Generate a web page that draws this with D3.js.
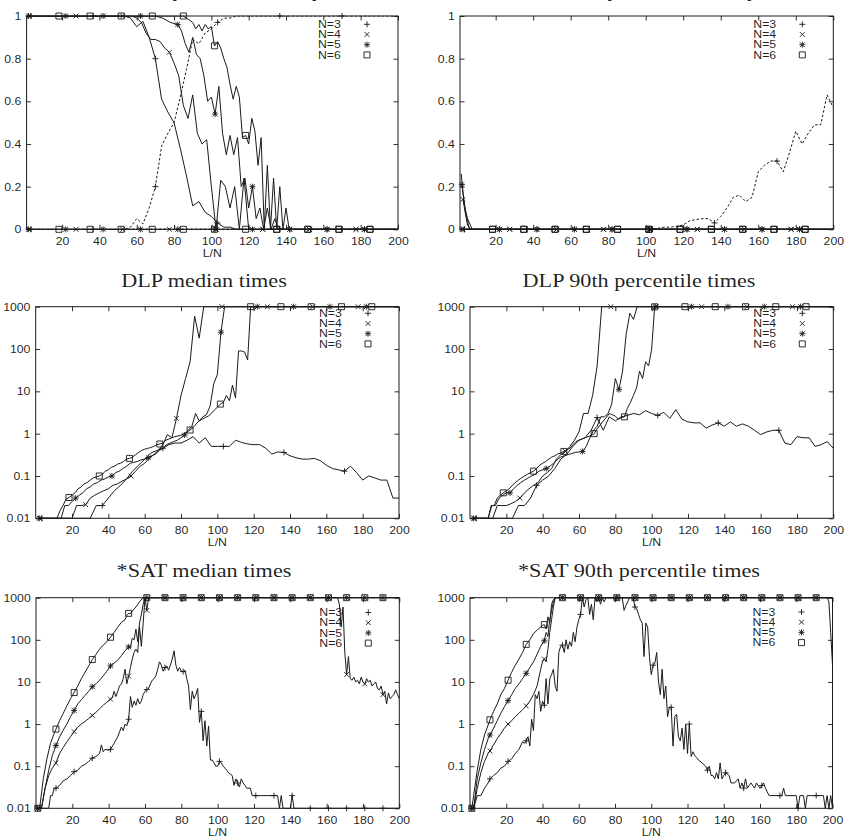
<!DOCTYPE html>
<html>
<head>
<meta charset="utf-8">
<script src="https://cdn.jsdelivr.net/npm/d3@7"></script>
<style>
  body { margin: 0; background: #fff; }
  svg { display: block; }
  text { fill-opacity: 0.99; }
</style>
</head>
<body>
<div id="chart"></div>
<script>
// ---- tick labels / legend ----
var xTicks = [20, 40, 60, 80, 100, 120, 140, 160, 180, 200];
var linTicks = [0, 0.2, 0.4, 0.6, 0.8, 1];
var logTicks = [0.01, 0.1, 1, 10, 100, 1000];
var legendLabels = ["N=3", "N=4", "N=5", "N=6"];
var legendSymbols = ["plus", "cross", "star", "box"];
var titles = ["Probability of satisfiability", "Probability of satisfiability",
  "DLP median times", "DLP 90th percentile times",
  "*SAT median times", "*SAT 90th percentile times"];

// ---- top left: solid (falling) and dashed (rising) curves ----
var pA3 = [[3.33,1],[53.33,1],[56.67,0.99],[60,0.95],[63.33,0.975],[66.67,0.9],[70,0.8],[73.33,0.61],[76.67,0.55],[80,0.5],[83.33,0.38],[86.67,0.25],[90,0.11],[93.33,0.13],[96.67,0.08],[100,0.06],[103.33,0.03],[106.67,0.01],[110,0.01],[113.33,0],[200,0]];
var pA4 = [[2.5,1],[57.5,1],[60,0.99],[62.5,0.97],[65,0.92],[67.5,0.89],[70,0.89],[72.5,0.88],[75,0.85],[77.5,0.83],[80,0.78],[82.5,0.72],[85,0.58],[87.5,0.52],[90,0.63],[92.5,0.45],[95,0.4],[97.5,0.42],[100,0.2],[102.5,0],[105,0.23],[107.5,0.2],[110,0.1],[112.5,0.2],[115,0],[117.5,0.24],[120,0],[200,0]];
var pA5 = [[2,1],[70,1],[74,0.99],[78,0.97],[82,0.96],[84,0.93],[86,0.87],[88,0.83],[90,0.9],[92,0.82],[94,0.8],[96,0.72],[98,0.6],[100,0.62],[102,0.54],[104,0.67],[106,0.45],[108,0.35],[110,0.44],[112,0.35],[114,0.43],[116,0.2],[118,0.24],[120,0.1],[122,0.2],[124,0.05],[126,0.1],[128,0],[130,0.1],[132,0],[134,0.05],[136,0],[200,0]];
var pA6 = [[1.67,1],[85,1],[86.67,0.99],[88.33,0.98],[90,0.97],[91.67,0.94],[93.33,0.96],[95,0.93],[96.67,0.96],[98.33,0.94],[100,0.95],[101.67,0.86],[103.33,0.88],[105,0.85],[106.67,0.8],[108.33,0.76],[110,0.68],[111.67,0.61],[113.33,0.67],[115,0.62],[116.67,0.43],[118.33,0.44],[120,0.4],[121.67,0.52],[123.33,0.46],[125,0.3],[126.67,0.43],[128.33,0],[130,0.3],[131.67,0],[133.33,0.24],[135,0],[136.67,0.2],[138.33,0],[140,0.1],[141.67,0],[200,0]];
var pB3 = [[3.33,0],[53.33,0],[56.67,0.01],[60,0.05],[63.33,0.025],[66.67,0.1],[70,0.2],[73.33,0.39],[76.67,0.45],[80,0.5],[83.33,0.62],[86.67,0.75],[90,0.89],[93.33,0.87],[96.67,0.92],[100,0.94],[103.33,0.97],[106.67,0.99],[110,0.99],[113.33,1],[200,1]];
var pB4 = [[2.5,0],[200,0]];
var pB5 = [[2,0],[200,0]];
var pB6 = [[1.67,0],[200,0]];

// ---- top right ----
var qA3 = [[3.33,0],[200,0]];
var qA4 = [[2.5,0.14],[5,0.05],[7.5,0],[200,0]];
var qA5 = [[2,0.21],[4,0.08],[6,0],[200,0]];
var qA6 = [[1.67,0.26],[3.33,0.1],[5,0.02],[6.67,0],[200,0]];
var qB3 = [[3.33,0],[103.33,0],[106.67,0.005],[110,0.01],[113.33,0.01],[116.67,0.015],[120,0.02],[123.33,0.04],[126.67,0.045],[130,0.05],[133.33,0.05],[136.67,0.03],[140,0.06],[143.33,0.1],[146.67,0.15],[150,0.16],[153.33,0.13],[156.67,0.15],[160,0.27],[163.33,0.3],[166.67,0.32],[170,0.32],[173.33,0.27],[176.67,0.36],[180,0.46],[183.33,0.4],[186.67,0.45],[190,0.49],[193.33,0.49],[196.67,0.63],[200,0.57]];

// ---- DLP median times ----
var dm3 = [[3.33,0.01],[30,0.01],[33.33,0.02],[36.67,0.02],[40,0.03],[43.33,0.045],[46.67,0.06],[50,0.085],[53.33,0.13],[56.67,0.18],[60,0.25],[63.33,0.35],[66.67,0.4],[70,0.45],[73.33,0.55],[76.67,0.6],[80,0.6],[83.33,0.7],[86.67,0.85],[90,0.6],[93.33,0.8],[96.67,0.5],[100,0.5],[103.33,0.5],[106.67,0.5],[110,0.7],[113.33,0.62],[116.67,0.57],[120,0.55],[123.33,0.55],[126.67,0.45],[130,0.33],[133.33,0.37],[136.67,0.36],[140,0.3],[143.33,0.27],[146.67,0.25],[150,0.25],[153.33,0.26],[156.67,0.23],[160,0.18],[163.33,0.15],[166.67,0.14],[170,0.13],[173.33,0.17],[176.67,0.12],[180,0.08],[183.33,0.1],[186.67,0.09],[190,0.08],[193.33,0.08],[196.67,0.03],[200,0.03]];
var dm4 = [[2.5,0.01],[20,0.01],[22.5,0.02],[25,0.02],[27.5,0.021],[30,0.03],[32.5,0.035],[35,0.04],[37.5,0.045],[40,0.05],[42.5,0.06],[45,0.065],[47.5,0.075],[50,0.085],[52.5,0.1],[55,0.13],[57.5,0.17],[60,0.2],[62.5,0.26],[65,0.32],[67.5,0.4],[70,0.55],[72.5,0.95],[75,0.8],[77.5,2.3],[80,8],[82.5,20],[85,50],[87.5,600],[90,180],[92.5,1000],[200,1000]];
var dm5 = [[2,0.01],[14,0.01],[16,0.02],[18,0.02],[20,0.025],[22,0.03],[24,0.035],[26,0.04],[28,0.05],[30,0.055],[32,0.065],[34,0.07],[36,0.08],[38,0.085],[40,0.095],[42,0.1],[44,0.12],[46,0.13],[48,0.15],[50,0.17],[52,0.2],[54,0.21],[56,0.22],[58,0.24],[60,0.25],[62,0.27],[64,0.3],[66,0.33],[68,0.4],[70,0.45],[72,0.55],[74,0.6],[76,0.65],[78,0.7],[80,0.8],[82,0.93],[84,1.2],[86,1.5],[88,3],[90,2],[92,2.5],[94,2.8],[96,4.5],[98,15],[100,25],[102,250],[104,1000],[200,1000]];
var dm6 = [[1.67,0.01],[11.67,0.01],[13.33,0.015],[15,0.02],[16.67,0.028],[18.33,0.031],[20,0.035],[21.67,0.04],[23.33,0.05],[25,0.055],[26.67,0.065],[28.33,0.07],[30,0.08],[31.67,0.09],[33.33,0.095],[35,0.1],[36.67,0.11],[38.33,0.13],[40,0.14],[41.67,0.16],[43.33,0.17],[45,0.19],[46.67,0.2],[48.33,0.22],[50,0.25],[51.67,0.26],[53.33,0.28],[55,0.32],[56.67,0.36],[58.33,0.4],[60,0.43],[61.67,0.45],[63.33,0.47],[65,0.5],[66.67,0.55],[68.33,0.57],[70,0.6],[71.67,0.7],[73.33,0.75],[75,0.8],[76.67,0.85],[78.33,0.88],[80,0.92],[81.67,1.0],[83.33,1.1],[85,1.22],[86.67,1.4],[88.33,1.7],[90,2.0],[91.67,2.2],[93.33,2.4],[95,2.6],[96.67,3.0],[98.33,3.6],[100,4.2],[101.67,5],[103.33,5.5],[105,8],[106.67,6],[108.33,14],[110,7],[111.67,90],[113.33,90],[115,85],[116.67,55],[118.33,1000],[200,1000]];

// ---- DLP 90th percentile times ----
var dp3 = [[3.33,0.01],[23.33,0.01],[26.67,0.02],[30,0.02],[33.33,0.03],[36.67,0.06],[40,0.08],[43.33,0.1],[46.67,0.15],[50,0.25],[53.33,0.33],[56.67,0.5],[60,0.7],[63.33,0.8],[66.67,1.2],[70,2.4],[73.33,1.2],[76.67,2.5],[80,2.0],[83.33,2.5],[86.67,2.7],[90,3],[93.33,2.8],[96.67,3.5],[100,3],[103.33,2.7],[106.67,3.2],[110,2.3],[113.33,3.7],[116.67,2.2],[120,1.9],[123.33,1.8],[126.67,1.8],[130,1.35],[133.33,1.6],[136.67,1.8],[140,1.5],[143.33,1.9],[146.67,1.5],[150,1.7],[153.33,1.5],[156.67,1.2],[160,0.95],[163.33,1.1],[166.67,1.2],[170,1.2],[173.33,0.6],[176.67,0.55],[180,0.85],[183.33,0.8],[186.67,0.8],[190,0.5],[193.33,0.55],[196.67,0.65],[200,0.45]];
var dp4 = [[2.5,0.01],[12.5,0.01],[15,0.02],[17.5,0.02],[20,0.02],[22.5,0.022],[25,0.025],[27.5,0.03],[30,0.04],[32.5,0.05],[35,0.06],[37.5,0.07],[40,0.1],[42.5,0.12],[45,0.15],[47.5,0.25],[50,0.32],[52.5,0.38],[55,0.5],[57.5,0.7],[60,1.1],[62.5,3],[65,3],[67.5,8],[70,40],[72.5,1000],[200,1000]];
var dp5 = [[2,0.01],[10,0.01],[12,0.02],[14,0.02],[16,0.03],[18,0.035],[20,0.04],[22,0.04],[24,0.05],[26,0.06],[28,0.07],[30,0.08],[32,0.09],[34,0.1],[36,0.11],[38,0.13],[40,0.14],[42,0.15],[44,0.17],[46,0.2],[48,0.24],[50,0.28],[52,0.3],[54,0.32],[56,0.34],[58,0.36],[60,0.37],[62,0.38],[64,0.5],[66,0.8],[68,1.2],[70,1.5],[72,2.5],[74,2.5],[76,3],[78,5],[80,20],[82,11],[84,30],[86,230],[88,700],[90,500],[92,1000],[200,1000]];
var dp6 = [[1.67,0.01],[10,0.01],[11.67,0.02],[13.33,0.02],[15,0.03],[16.67,0.035],[18.33,0.04],[20,0.045],[21.67,0.05],[23.33,0.06],[25,0.07],[26.67,0.08],[28.33,0.09],[30,0.1],[31.67,0.11],[33.33,0.12],[35,0.13],[36.67,0.15],[38.33,0.18],[40,0.2],[41.67,0.22],[43.33,0.25],[45,0.28],[46.67,0.3],[48.33,0.33],[50,0.35],[51.67,0.38],[53.33,0.42],[55,0.45],[56.67,0.55],[58.33,0.65],[60,0.7],[61.67,0.75],[63.33,0.8],[65,0.85],[66.67,0.9],[68.33,1.0],[70,1.3],[71.67,1.6],[73.33,2.0],[75,2.4],[76.67,3],[78.33,2.8],[80,2.6],[81.67,2.2],[83.33,2.4],[85,2.5],[86.67,4],[88.33,5.5],[90,8],[91.67,12],[93.33,30],[95,20],[96.67,50],[98.33,40],[100,100],[101.67,1000],[200,1000]];

// ---- *SAT median times ----
var sm3 = [[1,0.01],[7,0.01],[8,0.02],[9,0.02],[10,0.03],[11,0.03],[13,0.035],[15,0.045],[17,0.05],[19,0.06],[21,0.074],[23,0.08],[25,0.1],[27,0.11],[29,0.13],[31,0.155],[33,0.17],[35,0.2],[36,0.32],[37,0.22],[38,0.25],[40,0.24],[41,0.25],[43,0.35],[45,0.5],[47,0.85],[48,0.7],[49,1.0],[50,0.9],[51,1.3],[52,4.5],[53,2.5],[54,3.5],[55,2.8],[56,4],[57,3],[58,3.5],[59,5],[60,6],[61,6.6],[62,7],[63,9],[64,11],[65,12],[66,14],[67,20],[68,30],[69,25],[70,18],[71,22],[72,24],[73,19],[74,25],[75,35],[76,55],[77,25],[78,18],[79,22],[80,18],[81,17.6],[82,19],[83,12],[84,8],[85,2.2],[86,6],[87,4],[88,5],[89,7],[90,1.1],[91,2.0],[92,0.4],[93,1.2],[94,0.3],[95,0.9],[96,0.14],[97,0.14],[98,0.12],[99,0.1],[100,0.1],[101,0.13],[102,0.12],[103,0.1],[104,0.09],[105,0.08],[106,0.07],[107,0.065],[108,0.06],[109,0.035],[110,0.05],[111,0.04],[112,0.032],[113,0.05],[114,0.04],[115,0.035],[116,0.03],[118,0.03],[119,0.02],[133,0.02],[134,0.01],[135,0.02],[136,0.01],[140,0.01],[141,0.02],[142,0.01],[200,0.01]];
var sm4 = [[1,0.01],[3,0.01],[5,0.03],[7,0.06],[9,0.09],[11,0.12],[13,0.2],[15,0.28],[17,0.38],[19,0.5],[21,0.66],[23,0.85],[25,1.0],[27,1.15],[29,1.35],[31,1.6],[33,1.9],[35,2.3],[37,2.8],[39,3.3],[41,3.9],[42,4.2],[43,6],[44,4.5],[45,6],[46,8],[47,9],[48,12],[49,20],[50,9],[51,13.8],[52,22],[53,35],[54,50],[55,60],[56,50],[57,200],[58,70],[59,250],[60,1000],[61,500],[62,1000],[166,1000],[167,700],[168,200],[169,600],[170,50],[171,15],[172,40],[173,12],[174,11],[175,13],[176,10],[177,11],[178,9],[179,13],[180,10],[181,9],[182,12],[183,10],[184,11],[185,8],[186,9],[187,10],[188,7],[189,6.5],[190,8],[191,5],[192,6],[193,3],[194,5.5],[195,4],[196,4.5],[197,5],[198,6.5],[199,5],[200,4]];
var sm5 = [[1,0.01],[3,0.01],[5,0.03],[7,0.08],[9,0.18],[11,0.31],[13,0.5],[15,0.72],[17,1.0],[19,1.5],[21,2.1],[23,3],[25,3.8],[27,4.8],[29,6],[31,7.7],[33,9],[35,11],[37,14],[39,18],[41,24],[43,28],[45,33],[47,42],[49,55],[50,60],[51,68],[52,65],[53,110],[54,100],[55,180],[56,90],[57,250],[58,400],[59,700],[60,1000],[200,1000]];
var sm6 = [[1,0.01],[2,0.01],[4,0.05],[6,0.15],[8,0.35],[10,0.6],[11,0.76],[13,1.2],[15,1.8],[17,2.7],[19,4],[21,5.6],[23,8],[25,12],[27,17],[29,24],[31,34],[33,45],[35,60],[37,75],[39,90],[41,115],[43,150],[45,200],[47,260],[49,300],[50,380],[51,425],[52,420],[53,480],[55,600],[57,800],[59,1000],[200,1000]];

// ---- *SAT 90th percentile times ----
var sp3 = [[1,0.01],[2,0.01],[4,0.02],[6,0.02],[8,0.03],[10,0.04],[11,0.05],[13,0.06],[15,0.07],[17,0.09],[19,0.1],[21,0.13],[23,0.15],[25,0.2],[27,0.25],[29,0.38],[30,0.35],[31,0.4],[32,0.5],[33,0.3],[34,1.3],[35,0.7],[36,5],[37,4],[38,6],[39,2],[40,3.5],[41,2.8],[42,12],[43,3],[44,12],[45,15],[46,20],[47,8],[48,6],[49,50],[50,70],[51,75],[52,50],[53,100],[54,60],[55,90],[56,70],[57,150],[58,90],[59,200],[60,300],[61,400],[62,1000],[63,600],[64,900],[65,1000],[66,400],[67,700],[68,300],[69,1000],[70,800],[71,1000],[72,700],[73,1000],[74,800],[75,1000],[84,1000],[85,500],[86,650],[87,800],[88,1000],[90,1000],[91,600],[92,550],[93,400],[94,300],[95,250],[96,40],[97,250],[98,200],[99,40],[100,15],[101,25],[102,28],[103,50],[104,10],[105,5],[106,20],[107,4],[108,8],[109,1.5],[110,2.5],[111,2.5],[112,0.3],[113,1.5],[114,1.7],[115,0.5],[116,0.4],[117,0.8],[118,0.25],[119,1.0],[120,0.2],[121,1.0],[122,0.17],[123,0.22],[124,0.18],[125,0.16],[126,0.14],[128,0.12],[130,0.1],[131,0.08],[132,0.1],[133,0.06],[134,0.06],[135,0.05],[136,0.07],[137,0.05],[138,0.12],[139,0.05],[140,0.06],[141,0.07],[143,0.06],[144,0.04],[146,0.04],[148,0.05],[149,0.03],[150,0.04],[151,0.03],[152,0.05],[153,0.03],[155,0.04],[157,0.03],[158,0.04],[160,0.03],[162,0.04],[163,0.03],[165,0.02],[172,0.02],[173,0.03],[174,0.02],[180,0.02],[181,0.01],[182,0.02],[184,0.02],[185,0.01],[186,0.02],[195,0.02],[196,0.01],[197,0.02],[198,0.01],[199,0.02],[200,0.01]];
var sp4 = [[1,0.01],[2,0.01],[4,0.03],[6,0.07],[8,0.13],[10,0.2],[11,0.23],[13,0.32],[15,0.45],[17,0.6],[19,0.8],[21,1.0],[23,1.2],[25,1.5],[27,1.8],[29,2.2],[31,2.7],[33,3.5],[35,5],[37,8],[39,20],[40,30],[41,35],[42,30],[43,60],[44,150],[45,300],[46,600],[47,1000],[197,1000],[198,800],[199,150],[200,25]];
var sp5 = [[1,0.01],[2,0.01],[4,0.05],[6,0.12],[8,0.25],[10,0.45],[11,0.55],[13,0.8],[15,1.2],[17,1.8],[19,2.6],[21,3.6],[23,5],[25,7],[27,9],[29,12],[31,16],[33,22],[35,30],[37,45],[39,70],[41,95],[42,150],[43,120],[44,300],[45,500],[46,800],[47,1000],[200,1000]];
var sp6 = [[1,0.01],[2,0.02],[4,0.08],[6,0.25],[8,0.55],[10,0.95],[11,1.26],[13,2],[15,3],[17,5],[19,7],[21,11],[23,17],[25,25],[27,35],[29,50],[31,78],[33,100],[35,140],[37,170],[39,200],[40,220],[41,230],[42,180],[43,350],[44,250],[45,700],[46,900],[47,1000],[200,1000]];

// ---------------------------------------------------------------
var W = 848, H = 839;
var SX = 1.17;   // the scanned figure is stretched sideways
var ink = "#1a1a1a";

var svg = d3.select("#chart").append("svg")
  .attr("width", W).attr("height", H)
  .style("font-family", "'Liberation Sans', Arial, sans-serif");

// marker every 10th point: gnuplot style spacing per N
function mk(data, sym, N, dashed, bottomRow) {
  return {data: data, sym: sym, dashed: !!dashed,
    mStart: bottomRow ? 1 : 10 / N, mStep: bottomRow ? 10 : 100 / N};
}

var panels = [
  {left: 26.6, right: 398, top: 16, bottom: 229.3, xd: [1, 200], log: false,
   title: titles[0], tx: 204, ty: -3.5, legTop: 24.3,
   series: [mk(pA3,"plus",3), mk(pA4,"cross",4), mk(pA5,"star",5), mk(pA6,"box",6),
            mk(pB3,"plus",3,true), mk(pB4,"cross",4,true), mk(pB5,"star",5,true), mk(pB6,"box",6,true)]},
  {left: 460, right: 833.3, top: 16, bottom: 229.3, xd: [1, 200], log: false,
   title: titles[1], tx: 639, ty: -3.5, legTop: 24.3,
   series: [mk(qA3,"plus",3), mk(qA4,"cross",4), mk(qA5,"star",5), mk(qA6,"box",6),
            mk(qB3,"plus",3,true), mk(pB4,"cross",4,true), mk(pB5,"star",5,true), mk(pB6,"box",6,true)]},
  {left: 35.7, right: 399, top: 306.7, bottom: 518.3, xd: [0, 200], log: true,
   title: titles[2], tx: 204, ty: 286.7, legTop: 313.3,
   series: [mk(dm3,"plus",3), mk(dm4,"cross",4), mk(dm5,"star",5), mk(dm6,"box",6)]},
  {left: 470, right: 833.3, top: 306.7, bottom: 518.3, xd: [0, 200], log: true,
   title: titles[3], tx: 639, ty: 286.7, legTop: 313.3,
   series: [mk(dp3,"plus",3), mk(dp4,"cross",4), mk(dp5,"star",5), mk(dp6,"box",6)]},
  {left: 36, right: 399.3, top: 597.7, bottom: 808.3, xd: [0, 200], log: true,
   title: titles[4], tx: 204, ty: 576.7, legTop: 612.5,
   series: [mk(sm3,"plus",3,false,true), mk(sm4,"cross",4,false,true), mk(sm5,"star",5,false,true), mk(sm6,"box",6,false,true)]},
  {left: 470, right: 832.5, top: 597.7, bottom: 808.3, xd: [0, 200], log: true,
   title: titles[5], tx: 639, ty: 576.7, legTop: 612,
   series: [mk(sp3,"plus",3,false,true), mk(sp4,"cross",4,false,true), mk(sp5,"star",5,false,true), mk(sp6,"box",6,false,true)]}
];

function symbolPath(sym, cx, cy) {
  var s = 3, c = 2.4;
  var plus = "M" + (cx - s) + "," + cy + "h" + 2 * s + "M" + cx + "," + (cy - s) + "v" + 2 * s;
  var cross = "M" + (cx - c) + "," + (cy - c) + "l" + 2 * c + "," + 2 * c +
              "M" + (cx - c) + "," + (cy + c) + "l" + 2 * c + "," + (-2 * c);
  if (sym === "plus") return plus;
  if (sym === "cross") return cross;
  if (sym === "star") return plus + cross;
  return "M" + (cx - 3) + "," + (cy - 3) + "h6v6h-6z";
}

function interp(data, xv, log) {
  if (xv < data[0][0] - 1e-6 || xv > data[data.length - 1][0] + 1e-6) return null;
  for (var i = 1; i < data.length; i++) {
    if (xv <= data[i][0] + 1e-9) {
      var a = data[i - 1], b = data[i];
      var t = (b[0] === a[0]) ? 0 : (xv - a[0]) / (b[0] - a[0]);
      if (log) return Math.pow(10, Math.log10(a[1]) + t * (Math.log10(b[1]) - Math.log10(a[1])));
      return a[1] + t * (b[1] - a[1]);
    }
  }
  return data[0][1];
}

function stretched(g, x, y, str, size, anchor, family) {
  return g.append("text")
    .attr("transform", "translate(" + x + "," + y + ") scale(" + SX + ",1)")
    .attr("text-anchor", anchor)
    .style("font-size", size + "px")
    .style("font-family", family || null)
    .attr("fill", ink)
    .text(str);
}

panels.forEach(function(p, pi) {
  var g = svg.append("g");
  var x = d3.scaleLinear().domain(p.xd).range([p.left, p.right]);
  var y = p.log
    ? d3.scaleLog().domain([0.01, 1000]).range([p.bottom, p.top])
    : d3.scaleLinear().domain([0, 1]).range([p.bottom, p.top]);
  var yTicks = p.log ? logTicks : linTicks;

  // title (serif)
  stretched(g, p.tx, p.ty, p.title, 19, "middle", "'Liberation Serif', 'Times New Roman', serif");

  // axes: inward ticks, mirrored
  var fmtY = p.log ? function(d) { return String(d); } : function(d) { return d === 0 || d === 1 ? String(d) : d.toFixed(1); };
  var ax = g.append("g").attr("transform", "translate(0," + p.bottom + ")")
    .call(d3.axisBottom(x).tickValues(xTicks).tickSize(-4.5).tickPadding(8).tickFormat(d3.format("d")));
  var ay = g.append("g").attr("transform", "translate(" + p.left + ",0)")
    .call(d3.axisLeft(y).tickValues(yTicks).tickSize(-4.5).tickPadding(4.5).tickFormat(fmtY));
  g.append("g").attr("transform", "translate(0," + p.top + ")")
    .call(d3.axisTop(x).tickValues(xTicks).tickSize(-4.5).tickFormat(""));
  g.append("g").attr("transform", "translate(" + p.right + ",0)")
    .call(d3.axisRight(y).tickValues(yTicks).tickSize(-4.5).tickFormat(""));
  g.selectAll(".domain").remove();
  g.selectAll(".tick line").attr("stroke", ink).attr("stroke-width", 0.9);
  g.selectAll(".tick text").attr("fill", ink).style("font-size", "10.5px")
    .style("font-family", "'Liberation Sans', Arial, sans-serif");
  ax.selectAll(".tick text").attr("transform", "scale(" + SX + ",1)");
  ay.selectAll(".tick text").attr("transform", "scale(" + SX + ",1)");

  g.append("rect").attr("x", p.left).attr("y", p.top)
    .attr("width", p.right - p.left).attr("height", p.bottom - p.top)
    .attr("fill", "none").attr("stroke", ink).attr("stroke-width", 1);

  stretched(g, (p.left + p.right) / 2, p.bottom + 28, "L/N", 10.5, "middle");

  // legend
  var lg = g.append("g");
  legendLabels.forEach(function(lab, i) {
    var ly = p.legTop + i * 10.2;
    stretched(lg, p.right - 80, ly + 3.6, lab, 10.5, "start");
    lg.append("path").attr("d", symbolPath(legendSymbols[i], p.right - 31, ly))
      .attr("fill", "none").attr("stroke", ink).attr("stroke-width", 0.9);
  });

  // data
  var clipId = "clip" + pi;
  g.append("clipPath").attr("id", clipId).append("rect")
    .attr("x", p.left).attr("y", p.top - 0.5)
    .attr("width", p.right - p.left).attr("height", p.bottom - p.top + 1);
  var line = d3.line().x(function(d) { return x(d[0]); }).y(function(d) { return y(d[1]); });
  var plot = g.append("g").attr("clip-path", "url(#" + clipId + ")");
  p.series.forEach(function(s) {
    plot.append("path").datum(s.data).attr("d", line)
      .attr("fill", "none").attr("stroke", ink).attr("stroke-width", 1)
      .attr("stroke-linejoin", "round")
      .attr("stroke-dasharray", s.dashed ? "2.5,2" : null);
  });
  var marks = g.append("g");
  p.series.forEach(function(s) {
    for (var mx = s.mStart; mx <= 200 + 1e-6; mx += s.mStep) {
      var v = interp(s.data, mx, p.log);
      if (v === null) continue;
      marks.append("path").attr("d", symbolPath(s.sym, x(mx), y(v)))
        .attr("fill", "none").attr("stroke", ink).attr("stroke-width", 0.9);
    }
  });
});
</script>
</body>
</html>
